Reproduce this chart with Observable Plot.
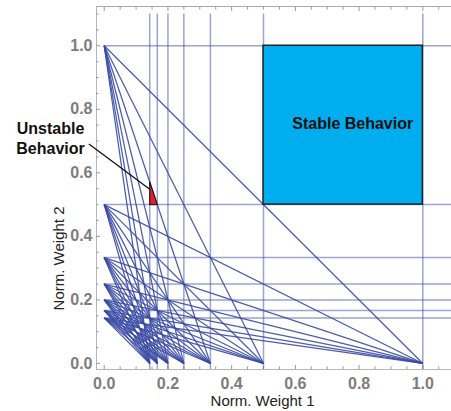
<!DOCTYPE html>
<html>
<head>
<meta charset="utf-8">
<script src="https://cdn.jsdelivr.net/npm/d3@7"></script>
<script src="https://cdn.jsdelivr.net/npm/@observablehq/plot@0.6"></script>
<style>
  html, body { margin: 0; padding: 0; background: #fff; }
</style>
</head>
<body>
<div id="chart"></div>
<script>
// ---- data ----
const denominators = [1, 2, 3, 4, 5, 6, 7];           // lines at 1/n
const majorTicks = [0, 0.2, 0.4, 0.6, 0.8, 1.0];
const tickLabels = ["0.0", "0.2", "0.4", "0.6", "0.8", "1.0"];
const minorTicksX = [0.05,0.1,0.15,0.25,0.3,0.35,0.45,0.5,0.55,0.65,0.7,0.75,0.85,0.9,0.95,1.05];
const minorTicksY = [0.05,0.1,0.15,0.25,0.3,0.35,0.45,0.5,0.55,0.65,0.7,0.75,0.85,0.9,0.95,1.05,1.1];
const stableRegion = [{x1: 0.5, x2: 1.0, y1: 0.5, y2: 1.0, label: "Stable Behavior"}];
const unstableRegion = [
  {x: 1/7, y: 0.5}, {x: 1/6, y: 0.5}, {x: 1/7, y: 4/7}, {x: 1/7, y: 0.5}
];
const xLabel = "Norm. Weight 1";
const yLabel = "Norm. Weight 2";

// ---- derived ----
const fractions = denominators.map(n => 1 / n);
const pairs = [];
for (const m of fractions) for (const n of fractions) pairs.push({y0: m, x0: n});

const xDomain = [-0.0242, 1.09];
const yDomain = [-0.019, 1.1235];
const lineColor = "#3a4aa3";
const tickColor = "#9a9a9a";
const labelColor = "#7d7d7d";
const font = "'Liberation Sans', Arial, sans-serif";

const chart = Plot.plot({
  width: 451,
  height: 411,
  marginLeft: 96,
  marginRight: 0,
  marginTop: 6,
  marginBottom: 42,
  x: {domain: xDomain},
  y: {domain: yDomain},
  style: {fontFamily: font, background: "#fff"},
  marks: [
    // frame (top, left, bottom)
    Plot.ruleY([yDomain[1]], {stroke: "#aaaaaa", strokeWidth: 1}),
    Plot.ruleY([yDomain[0]], {stroke: "#b5b5b5", strokeWidth: 1}),
    Plot.ruleX([xDomain[0]], {stroke: "#b5b5b5", strokeWidth: 1}),
    // ticks pointing inward
    Plot.axisX({anchor: "bottom", ticks: majorTicks, tickSize: -4, tickFormat: () => "", stroke: tickColor, label: null}),
    Plot.axisX({anchor: "bottom", ticks: minorTicksX, tickSize: -2.5, tickFormat: () => "", stroke: tickColor, label: null}),
    Plot.axisX({anchor: "top", ticks: majorTicks, tickSize: -4, tickFormat: () => "", stroke: tickColor, label: null}),
    Plot.axisX({anchor: "top", ticks: minorTicksX, tickSize: -2.5, tickFormat: () => "", stroke: tickColor, label: null}),
    Plot.axisY({anchor: "left", ticks: majorTicks, tickSize: -4, tickFormat: () => "", stroke: tickColor, label: null}),
    Plot.axisY({anchor: "left", ticks: minorTicksY, tickSize: -2.5, tickFormat: () => "", stroke: tickColor, label: null}),
    // tick labels
    Plot.axisX({anchor: "bottom", ticks: majorTicks, tickSize: 0, tickPadding: 8,
      tickFormat: (d) => tickLabels[majorTicks.indexOf(d)], fontSize: 16, fontWeight: "bold",
      color: labelColor, fill: labelColor, label: null}),
    Plot.axisY({anchor: "left", ticks: majorTicks, tickSize: 0, tickPadding: 4,
      tickFormat: (d) => tickLabels[majorTicks.indexOf(d)], fontSize: 16, fontWeight: "bold",
      color: labelColor, fill: labelColor, label: null}),
    // grid-like lines at 1/n
    Plot.ruleY(fractions, {y: d => d, x1: () => 0, x2: () => 1.1, stroke: lineColor, strokeWidth: 1.5, strokeOpacity: 0.5}),
    Plot.ruleX(fractions, {x: d => d, y1: () => yDomain[0], y2: () => 1.1, stroke: lineColor, strokeWidth: 1.5, strokeOpacity: 0.5}),
    // diagonal lines (0,1/m) -> (1/n,0)
    Plot.link(pairs, {x1: () => 0, y1: d => d.y0, x2: d => d.x0, y2: () => 0, stroke: lineColor, strokeWidth: 1.25, strokeOpacity: 0.9}),
    // stable region
    Plot.rect(stableRegion, {x1: "x1", x2: "x2", y1: "y1", y2: "y2", fill: "#00aeef", stroke: "#222", strokeWidth: 1.5}),
    Plot.text(stableRegion, {x: () => 0.78, y: () => 0.755, text: "label", fontSize: 16, fontWeight: "bold", fill: "#111"}),
    // unstable region
    Plot.line(unstableRegion, {x: "x", y: "y", fill: "#e41e26", stroke: "#111", strokeWidth: 1}),
    Plot.link([{}], {x1: () => -0.048, y1: () => 0.691, x2: () => 1/7, y2: () => 0.548, stroke: "#111", strokeWidth: 1.3}),
    Plot.text(["Unstable\nBehavior"], {x: () => -0.1686, y: () => 0.71, text: d => d, fontSize: 16, fontWeight: "bold", fill: "#111", lineHeight: 1.2}),
    // axis titles
    Plot.text([xLabel], {x: () => 0.497, frameAnchor: "bottom", lineAnchor: "bottom", dy: 36, text: d => d, fontSize: 15, fill: "#222"}),
    Plot.text([yLabel], {y: () => 0.167, frameAnchor: "left", lineAnchor: "bottom", dx: -33, rotate: -90, text: d => d, fontSize: 15, fill: "#222"})
  ]
});
document.getElementById("chart").appendChild(chart);
</script>
</body>
</html>
